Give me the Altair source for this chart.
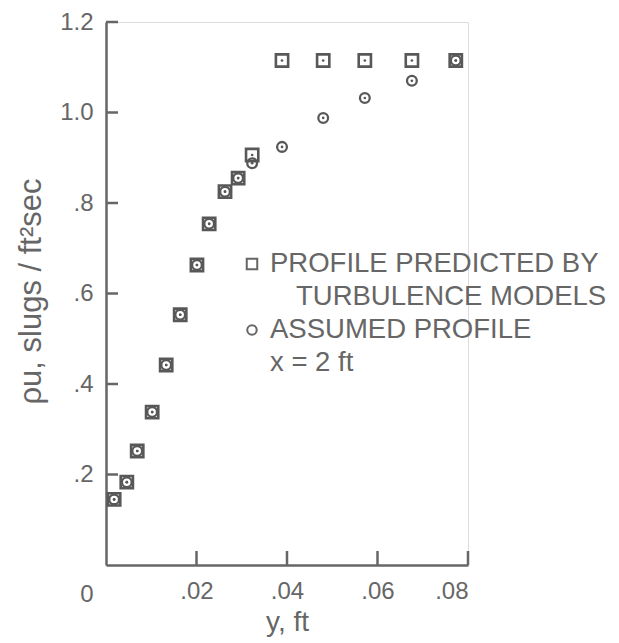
import altair as alt
import pandas as pd

# ---------------- data ----------------
y_ft = [0.0018, 0.0046, 0.0069, 0.0102, 0.0133, 0.0164, 0.0201, 0.0228,
        0.0263, 0.0292, 0.0323, 0.0389, 0.0480, 0.0572, 0.0676, 0.0773]
rho_u_predicted = [0.145, 0.183, 0.252, 0.338, 0.442, 0.553, 0.663, 0.754,
                   0.825, 0.855, 0.906, 1.115, 1.115, 1.115, 1.115, 1.115]
rho_u_assumed = [0.145, 0.183, 0.252, 0.338, 0.442, 0.553, 0.663, 0.754,
                 0.825, 0.855, 0.888, 0.924, 0.988, 1.032, 1.070, 1.115]

x_tick_values = [0.02, 0.04, 0.06, 0.08]
y_tick_values = [0.2, 0.4, 0.6, 0.8, 1.0, 1.2]
origin_label = ["0"]
x_title = "y, ft"
y_title = "ρu, slugs / ft²sec"
legend_lines = ["PROFILE PREDICTED BY", "TURBULENCE MODELS", "ASSUMED PROFILE", "x = 2 ft"]

# ---------------- styling ----------------
FONT = "Liberation Sans"
INK = "#666666"
MARK = "#585858"
W, H = 362, 543

pred_df = pd.DataFrame({"y_ft": y_ft, "rho_u": rho_u_predicted})
assm_df = pd.DataFrame({"y_ft": y_ft, "rho_u": rho_u_assumed})
xt_df = pd.DataFrame({"y_ft": x_tick_values})
yt_df = pd.DataFrame({"rho_u": y_tick_values})
origin_df = pd.DataFrame({"y_ft": [0.0], "rho_u": [0.0], "t": origin_label})

xscale = alt.Scale(domain=[0, 0.08], nice=False, zero=True)
yscale = alt.Scale(domain=[0, 1.2], nice=False, zero=True)

x_axis = alt.Axis(
    values=x_tick_values, ticks=False, tickSize=0, grid=False,
    labelExpr="replace(format(datum.value, '.2f'), '0.', '.')",
    labelFont=FONT, labelFontSize=24, labelColor=INK, labelPadding=14,
    labelFontWeight="normal",
    domainColor=INK, domainWidth=2.5,
    title=x_title, titleFont=FONT, titleFontSize=28, titleColor=INK,
    titleFontWeight="normal", titleX=W / 2, titleY=65,
    titleBaseline="alphabetic", titleAlign="center",
)
y_axis = alt.Axis(
    values=y_tick_values, ticks=False, tickSize=0, grid=False,
    labelExpr="replace(format(datum.value, '.1f'), '0.', '.')",
    labelFont=FONT, labelFontSize=24, labelColor=INK, labelPadding=13,
    labelFontWeight="normal", labelBaseline="middle",
    domainColor=INK, domainWidth=2.5,
    title=y_title, titleFont=FONT, titleFontSize=31, titleColor=INK,
    titleFontWeight="normal", titleX=-66, titleY=269, titleAngle=270,
    titleBaseline="alphabetic", titleAlign="center",
)

X = alt.X("y_ft:Q", scale=xscale, axis=x_axis)
Y = alt.Y("rho_u:Q", scale=yscale, axis=y_axis)

squares = alt.Chart(pred_df).mark_point(
    shape="square", filled=False, size=150, strokeWidth=2.6, color=MARK, opacity=1
).encode(x=X, y=Y)
circles = alt.Chart(assm_df).mark_point(
    shape="circle", filled=False, size=95, strokeWidth=2.3, color=MARK, opacity=1
).encode(x=X, y=Y)
dots_p = alt.Chart(pred_df).mark_point(
    shape="circle", filled=True, size=7, color=MARK, opacity=1
).encode(x=X, y=Y)
dots_a = alt.Chart(assm_df).mark_point(
    shape="circle", filled=True, size=7, color=MARK, opacity=1
).encode(x=X, y=Y)

xticks = alt.Chart(xt_df).mark_rule(color=INK, strokeWidth=2.5).encode(
    x=X, y=alt.value(H), y2=alt.value(H - 14)
)
yticks = alt.Chart(yt_df).mark_rule(color=INK, strokeWidth=2.5).encode(
    y=Y, x=alt.value(0), x2=alt.value(12)
)
origin = alt.Chart(origin_df).mark_text(
    font=FONT, fontSize=24, color=INK, dx=-19, dy=30, baseline="middle", align="center"
).encode(x=X, y=Y, text="t:N")

# hand-drawn legend block
leg_sq = alt.Chart(pd.DataFrame({"k": [0]})).mark_point(
    shape="square", filled=False, size=110, strokeWidth=2, color=INK, opacity=1
).encode(x=alt.value(146), y=alt.value(242))
leg_ci = alt.Chart(pd.DataFrame({"k": [0]})).mark_point(
    shape="circle", filled=False, size=90, strokeWidth=2, color=INK, opacity=1
).encode(x=alt.value(146), y=alt.value(308))

leg_pos = [(164, 242), (190, 275), (164, 308), (164, 341)]
leg_layers = []
for line, (px, py) in zip(legend_lines, leg_pos):
    leg_layers.append(
        alt.Chart(pd.DataFrame({"t": [line]})).mark_text(
            font=FONT, fontSize=27.5, color=INK, align="left", baseline="middle"
        ).encode(x=alt.value(px), y=alt.value(py), text="t:N")
    )

chart = alt.layer(
    xticks, yticks, squares, circles, dots_p, dots_a, origin, leg_sq, leg_ci, *leg_layers
).properties(
    width=W, height=H,
    padding={"left": 98, "top": 14, "right": 143, "bottom": 78},
    autosize=alt.AutoSizeParams(type="none"),
).configure_view(stroke=None).configure(background="white")

chart.save("out.html", embed_options={"renderer": "svg", "actions": False})
